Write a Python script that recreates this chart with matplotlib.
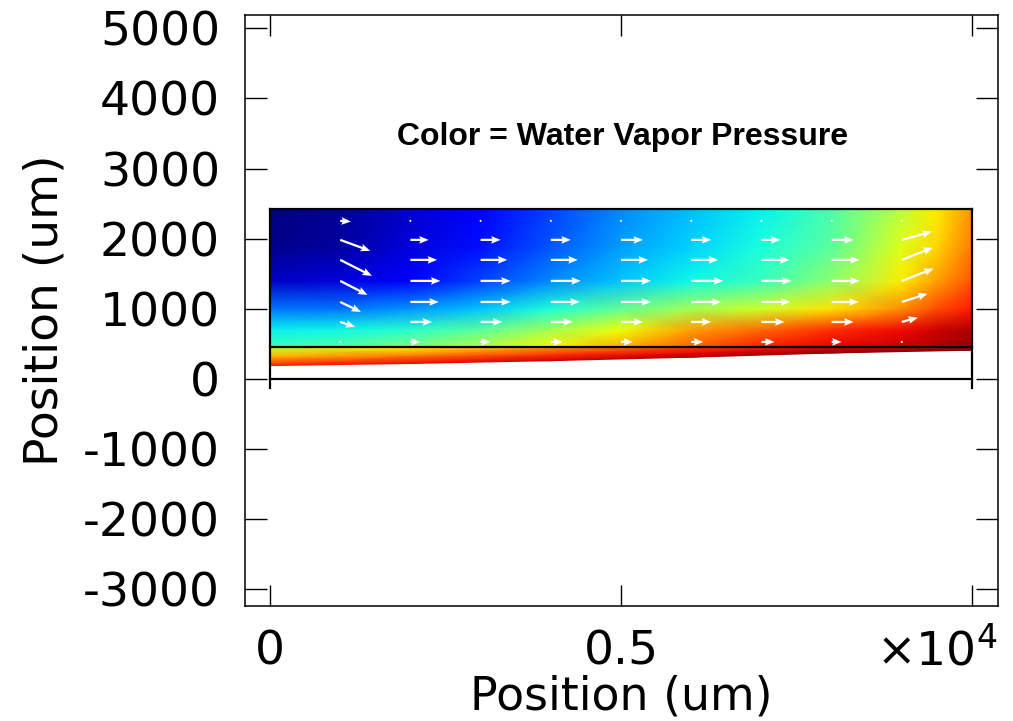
import numpy as np
import matplotlib
matplotlib.use("Agg")
import matplotlib.pyplot as plt

# channel (upper region) grid of water vapor pressure, normalised 0..1
chan_x = [0, 1000, 2000, 3000, 4000, 5000, 6000, 7000, 8000, 9000, 9500, 10000]
chan_y = [450, 700, 1000, 1400, 1900, 2425]
chan_p = [
    [0.42, 0.45, 0.50, 0.57, 0.65, 0.73, 0.81, 0.88, 0.91, 0.94, 0.96, 0.98],
    [0.36, 0.37, 0.40, 0.46, 0.55, 0.64, 0.74, 0.80, 0.86, 0.90, 0.93, 0.96],
    [0.24, 0.24, 0.27, 0.32, 0.39, 0.47, 0.55, 0.60, 0.67, 0.76, 0.83, 0.88],
    [0.06, 0.08, 0.12, 0.19, 0.26, 0.32, 0.37, 0.42, 0.52, 0.66, 0.74, 0.82],
    [0.01, 0.03, 0.08, 0.14, 0.21, 0.28, 0.33, 0.38, 0.46, 0.62, 0.68, 0.78],
    [0.00, 0.02, 0.07, 0.12, 0.19, 0.26, 0.31, 0.36, 0.44, 0.58, 0.66, 0.75],
]

# wet layer below the interface: bottom edge and pressure at bottom / middle / top
layer_x = [0, 2000, 4000, 6000, 8000, 10000]
layer_bottom = [190, 220, 260, 310, 370, 410]
layer_top = 450
layer_p_bottom = [0.88, 0.90, 0.93, 0.96, 0.98, 1.00]
layer_p_mid = [0.72, 0.78, 0.85, 0.90, 0.95, 0.98]
layer_p_top = [0.58, 0.65, 0.75, 0.85, 0.92, 0.96]

# air velocity arrows (u, v in px of arrow length)
vel_x = [1000, 2000, 3000, 4000, 5000, 6000, 7000, 8000, 9000]
vel_y = [2254, 1983, 1698, 1398, 1098, 813, 528]
vel_u = [
    [10.7, 0.5, 0.5, 0.5, 0.5, 0.5, 0.5, 0.5, 0.5],
    [30.0, 18.3, 20.0, 20.0, 22.0, 20.0, 19.0, 22.0, 30.0],
    [31.7, 26.7, 26.7, 27.0, 27.0, 27.0, 28.0, 28.0, 31.0],
    [27.3, 30.0, 30.0, 30.0, 30.0, 32.0, 30.0, 28.0, 31.7],
    [20.7, 28.3, 30.0, 29.0, 30.0, 30.0, 29.0, 27.0, 25.7],
    [15.0, 21.7, 21.7, 22.0, 22.0, 20.0, 23.0, 22.0, 16.0],
    [0.0, 10.0, 10.0, 12.0, 12.0, 12.0, 13.0, 10.0, 0.0],
]
vel_v = [
    [-0.7, 0, 0, 0, 0, 0, 0, 0, 0],
    [-11.0, 0, 0, 0, 0, 0, 0, 0, 8.3],
    [-16.0, 0, 0, 0, 0, 0, 0, 0, 12.3],
    [-14.0, 0, 0, 0, 0, 0, 0, 0, 12.3],
    [-10.0, 0, 0, 0, 0, 0, 0, 0, 8.3],
    [-5.0, 0, 0, 0, 0, 0, 0, 0, 4.3],
    [0, 0, 0, 0, 0, 0, 0, 0, 0],
]

y_ticks = [-3000, -2000, -1000, 0, 1000, 2000, 3000, 4000, 5000]
x_ticks = [0, 5000, 10000]
x_tick_labels = ["0", "0.5", ""]

fig = plt.figure(figsize=(10.13, 7.21), dpi=100)
ax = fig.add_axes([245 / 1013, 115 / 721, 753 / 1013, 591 / 721])

cmap = plt.get_cmap("jet")

# channel field
CX, CY = np.meshgrid(chan_x, chan_y)
ax.pcolormesh(CX, CY, np.array(chan_p), cmap=cmap, vmin=0, vmax=1,
              shading="gouraud", zorder=1)

# wet layer wedge
lx = np.array(layer_x, dtype=float)
lb = np.array(layer_bottom, dtype=float)
lt = np.full_like(lx, layer_top)
LX = np.vstack([lx, lx, lx])
LY = np.vstack([lb, (lb + lt) / 2, lt])
LP = np.vstack([layer_p_bottom, layer_p_mid, layer_p_top])
ax.pcolormesh(LX, LY, LP, cmap=cmap, vmin=0, vmax=1, shading="gouraud", zorder=1)

# geometry outline
lw = 1.6
ax.plot([0, 0], [-130, 2425], color="black", lw=lw, zorder=3)
ax.plot([10000, 10000], [-130, 2425], color="black", lw=lw, zorder=3)
ax.plot([0, 10000], [2425, 2425], color="black", lw=lw, zorder=3)
ax.plot([0, 10000], [450, 450], color="black", lw=lw, zorder=3)
ax.plot([0, 10000], [0, 0], color="black", lw=lw, zorder=3)

# velocity arrows
VX, VY = np.meshgrid(vel_x, vel_y)
ax.quiver(VX, VY, np.array(vel_u), np.array(vel_v), color="white",
          angles="xy", scale_units="xy", scale=0.0702, pivot="tail",
          width=0.003, headwidth=3.4, headlength=4.2, headaxislength=3.7,
          zorder=4)

ax.text(5020, 3447, "Color = Water Vapor Pressure", ha="center", va="center",
        fontsize=23, fontweight="bold", family="Liberation Sans", zorder=5)

ax.set_xlim(-356, 10370)
ax.set_ylim(-3238, 5190)

ax.set_xticks(x_ticks)
ax.set_xticklabels(x_tick_labels)
ax.set_yticks(y_ticks)
ax.set_yticklabels([str(t) for t in y_ticks])

ax.tick_params(axis="both", direction="in", top=True, right=True,
               width=1.0, labelsize=34, color="black")
ax.tick_params(axis="y", length=15.8, pad=18)
ax.tick_params(axis="x", length=15, pad=17)
for s in ax.spines.values():
    s.set_linewidth(1.1)

ax.text(0.999, -0.100, "×10$^{4}$", transform=ax.transAxes, ha="right",
        va="baseline", fontsize=34)

ax.set_xlabel("Position (um)", fontsize=33)
ax.set_ylabel("Position (um)", fontsize=34)
ax.xaxis.set_label_coords(0.5, -0.116)
ax.yaxis.set_label_coords(-0.236, 0.5)

fig.savefig("out.png", dpi=100)
